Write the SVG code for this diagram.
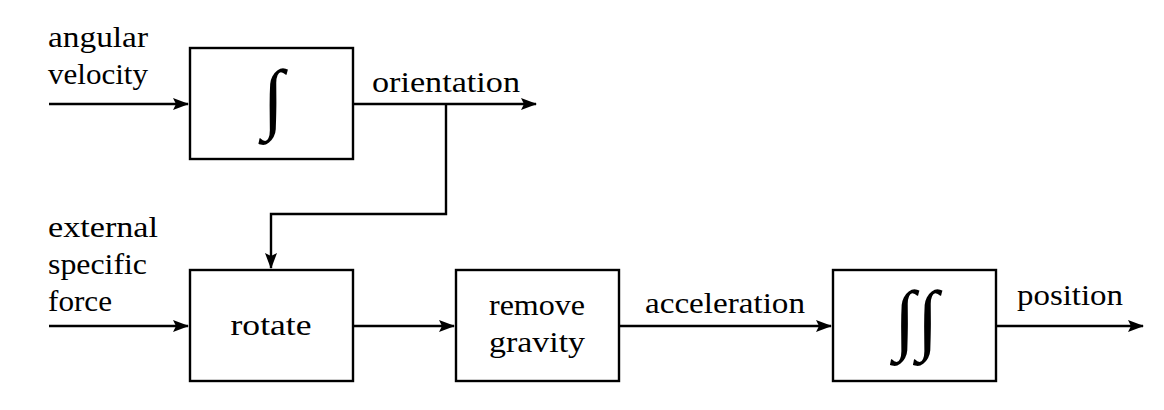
<svg xmlns="http://www.w3.org/2000/svg" width="1164" height="410" viewBox="0 0 1164 410">
<rect width="1164" height="410" fill="#fff"/>
<text x="48" y="47" font-family="Liberation Serif" font-size="30" textLength="100" lengthAdjust="spacingAndGlyphs">angular</text>
<text x="48" y="84" font-family="Liberation Serif" font-size="30" textLength="100" lengthAdjust="spacingAndGlyphs">velocity</text>
<text x="372" y="92" font-family="Liberation Serif" font-size="30" textLength="148" lengthAdjust="spacingAndGlyphs">orientation</text>
<text x="48" y="237" font-family="Liberation Serif" font-size="30" textLength="110" lengthAdjust="spacingAndGlyphs">external</text>
<text x="48" y="274" font-family="Liberation Serif" font-size="30" textLength="99" lengthAdjust="spacingAndGlyphs">specific</text>
<text x="48" y="311" font-family="Liberation Serif" font-size="30" textLength="64" lengthAdjust="spacingAndGlyphs">force</text>
<text x="645" y="313" font-family="Liberation Serif" font-size="30" textLength="160" lengthAdjust="spacingAndGlyphs">acceleration</text>
<text x="1017" y="305" font-family="Liberation Serif" font-size="30" textLength="106" lengthAdjust="spacingAndGlyphs">position</text>
<defs>
<marker id="ah" viewBox="0 0 16 12" refX="15" refY="6" markerWidth="16" markerHeight="12" markerUnits="userSpaceOnUse" orient="auto">
<path d="M0,0 L16,6 L0,12 L3,6 Z" fill="#000"/>
</marker>
</defs>
<g id="connectors" fill="none" stroke="#000" stroke-width="2.4">
<path d="M49,104 H188" marker-end="url(#ah)"/>
<path d="M353,104 H536" marker-end="url(#ah)"/>
<path d="M446,104 V214 H271 V268" marker-end="url(#ah)"/>
<path d="M49,326 H188" marker-end="url(#ah)"/>
<path d="M353,326 H454" marker-end="url(#ah)"/>
<path d="M619,326 H831" marker-end="url(#ah)"/>
<path d="M996,326 H1143" marker-end="url(#ah)"/>
</g>
<g id="integrate1">
<rect x="190" y="48" width="163" height="111" fill="#fff" stroke="#000" stroke-width="2.4"/>
<text x="273.5" y="124" font-family="Liberation Serif" font-size="78" text-anchor="middle">∫</text>
</g>
<g id="rotate">
<rect x="190" y="270" width="163" height="111" fill="#fff" stroke="#000" stroke-width="2.4"/>
<text x="271" y="335" font-family="serif" font-size="30" text-anchor="middle" textLength="81" lengthAdjust="spacingAndGlyphs">rotate</text>
</g>
<g id="remove-gravity">
<rect x="456" y="270" width="163" height="111" fill="#fff" stroke="#000" stroke-width="2.4"/>
<text x="537" y="315" font-family="Times New Roman" font-size="30" text-anchor="middle" textLength="96" lengthAdjust="spacingAndGlyphs">remove</text>
<text x="537" y="352" font-family="Times New Roman" font-size="30" text-anchor="middle" textLength="96" lengthAdjust="spacingAndGlyphs">gravity</text>
</g>
<g id="integrate2">
<rect x="833" y="270" width="163" height="111" fill="#fff" stroke="#000" stroke-width="2.4"/>
<text x="905" y="345" font-family="Liberation Serif" font-size="78" text-anchor="middle">∫</text>
<text x="928" y="345" font-family="Liberation Serif" font-size="78" text-anchor="middle">∫</text>
</g>
</svg>
